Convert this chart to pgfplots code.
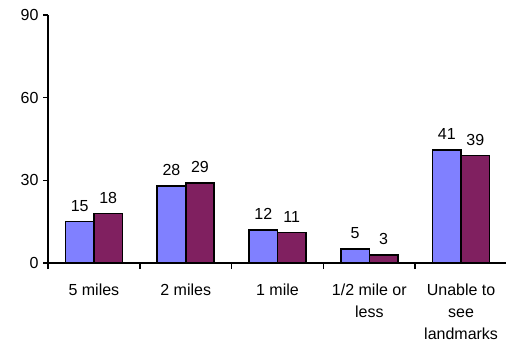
\documentclass[border=0pt]{standalone}
\usepackage{pgfplots}
\pgfplotsset{compat=1.18}
\usepackage{fontspec}
\setmainfont{Liberation Sans}
\definecolor{barblue}{HTML}{8080FF}
\definecolor{barmaroon}{HTML}{802060}
\newcommand\chartfont{\fontsize{16}{22}\selectfont}
\begin{document}
\begin{tikzpicture}
\path[use as bounding box] (0,0) rectangle (506pt,343pt);
\begin{axis}[
  at={(48pt,80pt)}, anchor=south west,
  scale only axis, width=459pt, height=248pt,
  xmin=-0.5, xmax=4.5, ymin=0, ymax=90,
  axis x line=bottom, axis y line=left,
  axis line style={-, line width=1.6pt, black},
  ytick={0,30,60,90},
  xtick={0,1,2,3,4},
  xticklabels={5 miles, 2 miles, 1 mile, {1/2 mile or\\less}, {Unable to\\see\\landmarks}},
  minor xtick={-0.5,0.5,1.5,2.5,3.5},
  major x tick style={draw=none},
  minor x tick style={black, line width=1.6pt},
  ytick style={black, line width=1.6pt},
  tick align=outside,
  major tick length=5pt, minor tick length=6pt,
  /pgf/number format/assume math mode=true,
  tick label style={font=\chartfont},
  xticklabel style={align=center, anchor=north, yshift=-12pt},
  yticklabel style={xshift=-1pt},
  ybar, bar width=28.5pt,
  nodes near coords,
  every node near coord/.append style={font=\chartfont, black, yshift=6pt},
  clip=false,
]
\addplot[fill=barblue, draw=black, line width=1.6pt, bar shift=-14.25pt] coordinates {(0,15) (1,28) (2,12) (3,5) (4,41)};
\addplot[fill=barmaroon, draw=black, line width=1.6pt, bar shift=14.25pt] coordinates {(0,18) (1,29) (2,11) (3,3) (4,39)};
\end{axis}
\end{tikzpicture}
\end{document}
